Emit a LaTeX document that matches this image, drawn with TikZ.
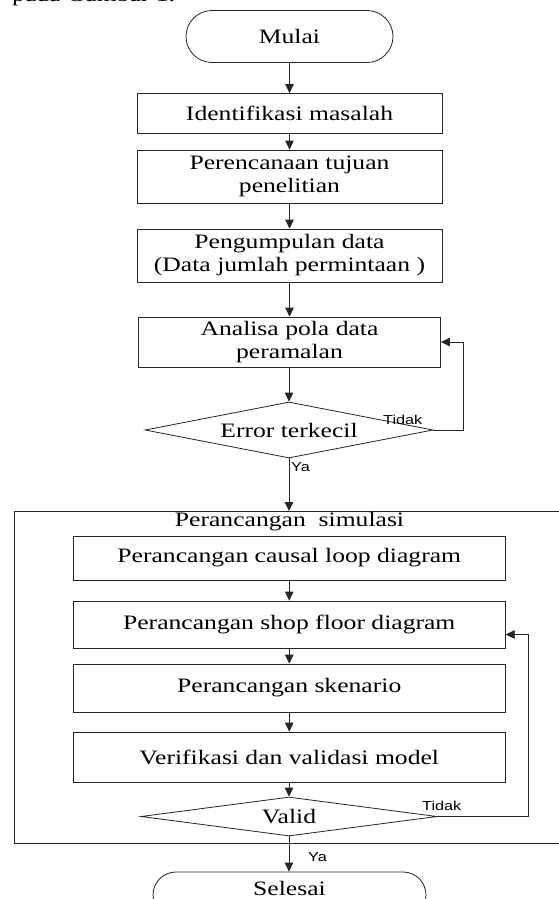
\documentclass[tikz,border=0pt]{standalone}
\usepackage{fontspec}
\setmainfont{Liberation Serif}[FakeStretch=1.25]
\newfontfamily\lblfont{Liberation Sans}[FakeStretch=1.25]
\newcommand\mainfs{\fontsize{20.5}{23}\selectfont}
\newcommand\lblfs{\lblfont\fontsize{13}{15}\selectfont}
\usetikzlibrary{arrows.meta,shapes.misc,shapes.geometric}
\tikzset{
  ln/.style={line width=0.8pt, draw=black!85},
  proc/.style={ln, rectangle, fill=white, align=center, inner sep=0pt, font=\mainfs},
  term/.style={ln, rounded rectangle, fill=white, inner sep=0pt, font=\mainfs},
  dec/.style={ln, diamond, fill=white, inner sep=0pt, font=\mainfs},
  lbl/.style={anchor=west, inner sep=0pt, font=\lblfs},
  arr/.style={ln, -{Triangle[length=9pt,width=8.5pt]}},
}
\begin{document}
\begin{tikzpicture}[x=1pt,y=-1pt]
\useasboundingbox (0,0) rectangle (559,899);
\clip (0,0) rectangle (559,899);
\fill[white] (0,0) rectangle (559,899);
% cut-off caption line
\node[anchor=base west, inner sep=0pt, font=\mainfs] (hdr) at (12,2) {pada Gambar 1.};
% main column
\node[term, minimum width=207pt, minimum height=52pt] (mulai) at (289.5,36.5) {Mulai};
\node[proc, minimum width=305pt, minimum height=40pt] (ident) at (289.5,113.5) {Identifikasi masalah};
\node[proc, minimum width=305pt, minimum height=53pt] (peren) at (289.5,176.5) {Perencanaan tujuan\\penelitian};
\node[proc, minimum width=305pt, minimum height=53pt] (pengum) at (289.5,255.5) {Pengumpulan data\\(Data jumlah permintaan )};
\node[proc, minimum width=302pt, minimum height=50pt] (analisa) at (289.5,342) {Analisa pola data\\peramalan};
\node[dec, aspect=5.1, minimum width=288pt, minimum height=56pt] (err) at (289,430) {Error terkecil};
\coordinate (l1) at (463,0);
\node[lbl] (tidak1) at (383,420) {Tidak};
\node[lbl] (ya1) at (291,467) {Ya};
% simulation group
\node[ln, rectangle, anchor=north west, minimum width=560pt, minimum height=332pt, inner sep=0pt] (simbox) at (14,511) {};
\node[anchor=base, inner sep=0pt, font=\mainfs] (simlbl) at (289.5,526) {Perancangan\ \ simulasi};
\node[proc, minimum width=432pt, minimum height=44pt] (causal) at (289.25,558) {Perancangan causal loop diagram};
\node[proc, minimum width=432pt, minimum height=47pt] (shop) at (289.25,624.5) {Perancangan shop floor diagram};
\node[proc, minimum width=432pt, minimum height=48pt] (sken) at (289.25,688) {Perancangan skenario};
\node[proc, minimum width=432pt, minimum height=50pt] (verif) at (289.25,757) {Verifikasi dan validasi model};
\node[dec, aspect=7.6, minimum width=296pt, minimum height=39pt] (valid) at (289,816.5) {Valid};
\coordinate (l2) at (528,0);
\node[lbl] (tidak2) at (422,806) {Tidak};
\node[lbl] (ya2) at (308,857) {Ya};
\node[term, minimum width=273pt, minimum height=46pt, text height=13pt, text depth=13pt] (selesai) at (289.5,895) {Selesai};
% connectors
\draw[arr] (mulai) -- (ident);
\draw[arr] (ident) -- (peren);
\draw[arr] (peren) -- (pengum);
\draw[arr] (pengum) -- (analisa);
\draw[arr] (analisa.south -| err.north) -- (err.north);
\draw[arr] (err.east) -- (err.east -| l1) |- (analisa.east);
\draw[arr] (err.south) -- (err.south |- simbox.north);
\draw[arr] (causal) -- (shop);
\draw[arr] (shop) -- (sken);
\draw[arr] (sken) -- (verif);
\draw[arr] (verif.south -| valid.north) -- (valid.north);
\draw[arr] (valid.east) -- (valid.east -| l2) |- ([yshift=-10pt]shop.east);
\draw[arr] (valid.south) -- (valid.south |- selesai.north);
\end{tikzpicture}
\end{document}
